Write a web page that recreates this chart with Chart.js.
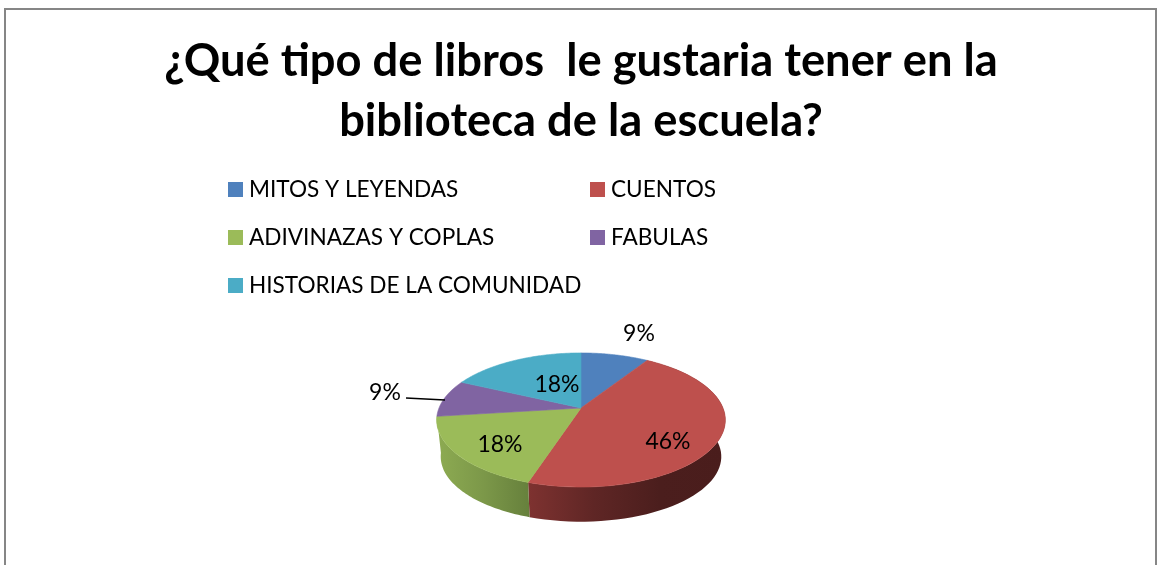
<!DOCTYPE html>
<html>
<head>
<meta charset="utf-8">
<style>html,body{margin:0;padding:0;background:#fff;overflow:hidden}canvas{display:block}</style>
<script src="https://cdn.jsdelivr.net/npm/chart.js@4"></script>
</head>
<body>
<canvas id="c" width="1157" height="565"></canvas>
<script>
const titleLines = ['¿Qué tipo de libros  le gustaria tener en la', 'biblioteca de la escuela?'];
const categories = ['MITOS Y LEYENDAS', 'CUENTOS', 'ADIVINAZAS Y COPLAS', 'FABULAS', 'HISTORIAS DE LA COMUNIDAD'];
const values = [9, 46, 18, 9, 18];
const colors = ['#4F81BD', '#BE504D', '#9BBB59', '#8064A2', '#4BACC6'];
const wallStops = [
  ['#3b6190', '#3b6190'],
  ['#7e3230', '#5f2625', '#4b1e1d', '#4a1d1c'],
  ['#8dab52', '#7c9849', '#66803c'],
  ['#604b7a', '#604b7a'],
  ['#388197', '#388197']
];
const fontFamily = 'Lato, Carlito, Calibri, sans-serif';

// perspective look of the tilted pie
const persp = -0.179, yScale = 64.9 / 142, wallDrop = 37, wallScale = 0.972;
const labelOffsets = [[58, -75], [87, 33], [-81, 36], [-196, -16], [-24, -24]];
const legendCols = [228, 590], legendRows = [190, 238, 286], swatch = 15, legendGap = 6;

function rim(arc, theta, lower) {
  const u = Math.sin(theta), v = -Math.cos(theta);
  const d = 1 + persp * v;
  const s = lower ? wallScale : 1;
  return {
    x: arc.x + arc.outerRadius * u / d * s,
    y: arc.y + arc.outerRadius * yScale * v / d * (lower ? 0.97 : 1) + (lower ? wallDrop : 0)
  };
}

const pie3d = {
  id: 'pie3d',
  beforeDraw(chart) {
    const ctx = chart.ctx;
    ctx.save();
    ctx.fillStyle = '#fff';
    ctx.fillRect(0, 0, chart.width, chart.height);
    ctx.strokeStyle = '#868686';
    ctx.lineWidth = 2;
    ctx.strokeRect(5, 9, 1151, 620);
    ctx.restore();
  },
  beforeDatasetDraw(chart, args) {
    const ctx = chart.ctx;
    const arcs = args.meta.data;
    ctx.save();
    // side wall: only slices facing the viewer
    arcs.forEach((arc, i) => {
      const a0 = arc.startAngle + Math.PI / 2, a1 = arc.endAngle + Math.PI / 2;
      if (Math.cos((a0 + a1) / 2) > 0) return;
      const n = 60, top = [], low = [];
      for (let k = 0; k <= n; k++) {
        const t = a0 + (a1 - a0) * k / n;
        top.push(rim(arc, t, false));
        low.push(rim(arc, t, true));
      }
      const xs = top.concat(low).map(p => p.x);
      const xa = Math.min(...xs), xb = Math.max(...xs);
      const g = ctx.createLinearGradient(xa, 0, xb, 0);
      wallStops[i].forEach((c, k, all) => g.addColorStop(k / (all.length - 1), c));
      ctx.fillStyle = g;
      ctx.beginPath();
      top.forEach((p, k) => k ? ctx.lineTo(p.x, p.y) : ctx.moveTo(p.x, p.y));
      low.reverse().forEach(p => ctx.lineTo(p.x, p.y));
      ctx.closePath();
      ctx.fill();
    });
    // top face
    arcs.forEach((arc, i) => {
      const a0 = arc.startAngle + Math.PI / 2, a1 = arc.endAngle + Math.PI / 2;
      ctx.fillStyle = colors[i];
      ctx.strokeStyle = colors[i];
      ctx.lineWidth = 0.6;
      ctx.beginPath();
      ctx.moveTo(arc.x, arc.y);
      for (let k = 0; k <= 80; k++) {
        const p = rim(arc, a0 + (a1 - a0) * k / 80, false);
        ctx.lineTo(p.x, p.y);
      }
      ctx.closePath();
      ctx.fill();
      ctx.stroke();
    });
    ctx.restore();
    return false;
  },
  afterDraw(chart) {
    const ctx = chart.ctx;
    const arcs = chart.getDatasetMeta(0).data;
    const cx = arcs[0].x, cy = arcs[0].y;
    ctx.save();
    // leader line for the small slice
    ctx.strokeStyle = '#000';
    ctx.lineWidth = 1.3;
    ctx.beginPath();
    ctx.moveTo(cx - 175, cy - 10);
    ctx.lineTo(cx - 136, cy - 8);
    ctx.stroke();
    // data labels
    ctx.fillStyle = '#000';
    ctx.textAlign = 'center';
    ctx.textBaseline = 'middle';
    ctx.font = '23px ' + fontFamily;
    values.forEach((v, i) => {
      ctx.fillText(v + '%', cx + labelOffsets[i][0], cy + labelOffsets[i][1] + 1);
    });
    // legend
    ctx.textAlign = 'left';
    ctx.font = '22.6px ' + fontFamily;
    categories.forEach((name, i) => {
      const x = legendCols[i % 2], y = legendRows[Math.floor(i / 2)];
      ctx.fillStyle = colors[i];
      ctx.fillRect(x, y - 8, swatch, swatch);
      ctx.fillStyle = '#000';
      ctx.fillText(name, x + swatch + legendGap, y);
    });
    ctx.restore();
  }
};

new Chart(document.getElementById('c'), {
  type: 'pie',
  data: { labels: categories, datasets: [{ data: values, backgroundColor: colors, borderWidth: 0, radius: 142 }] },
  options: {
    responsive: false,
    animation: false,
    layout: { padding: { left: 5, right: 0, top: 0, bottom: 15 } },
    plugins: {
      legend: { display: false },
      tooltip: { enabled: false },
      title: {
        display: true,
        text: titleLines,
        color: '#000',
        font: { family: fontFamily, size: 45.3, weight: 'bold', lineHeight: 1.33 },
        padding: { top: 31, bottom: 114.5 },
        fullSize: true
      }
    }
  },
  plugins: [pie3d]
});
</script>
</body>
</html>
